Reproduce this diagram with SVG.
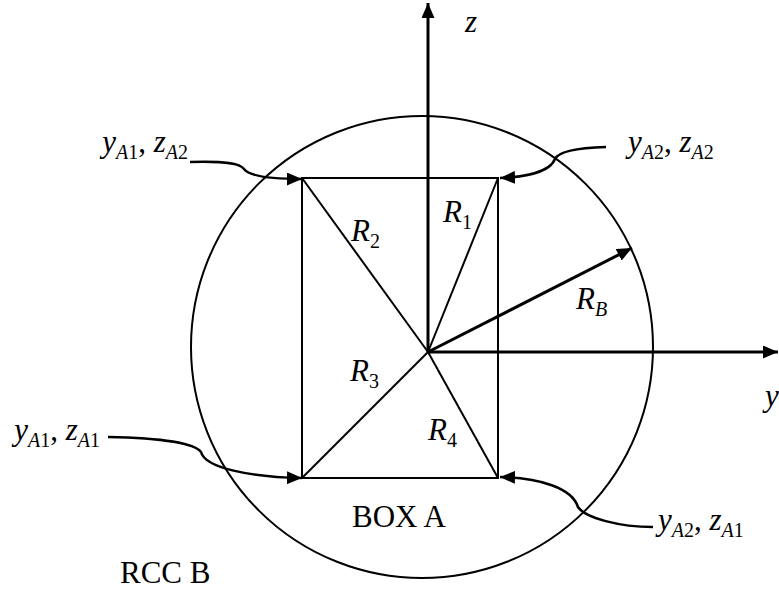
<svg xmlns="http://www.w3.org/2000/svg" width="779" height="593" viewBox="0 0 779 593">
<defs>
<marker id="ah" markerWidth="15" markerHeight="13" refX="15" refY="6.5" orient="auto" markerUnits="userSpaceOnUse">
<path d="M0,0 L15,6.5 L0,13 Z" fill="#000"/>
</marker>
<style>
.ln{fill:none;stroke:#000;stroke-width:2}
.ax{fill:none;stroke:#000;stroke-width:3}
.cv{fill:none;stroke:#000;stroke-width:2.5}
text{font-family:"Liberation Serif","Times New Roman",serif;fill:#000}
.it{font-style:italic}
.m{font-size:31px}
.s{font-size:20px}
.lbl{font-size:31px}
</style>
</defs>
<g id="circle-rcc-b"><ellipse cx="422" cy="347" rx="231" ry="231" class="ln"/></g>
<g id="box-a">
<rect x="302" y="178" width="196" height="300" class="ln"/>
</g>
<g id="connectors">
<line x1="428" y1="352" x2="428" y2="3" class="ax" marker-end="url(#ah)"/>
<line x1="428" y1="352" x2="778" y2="352" class="ax" marker-end="url(#ah)"/>
<line x1="428" y1="352" x2="302" y2="178" class="ln"/>
<line x1="428" y1="352" x2="498" y2="178" class="ln"/>
<line x1="428" y1="352" x2="302" y2="478" class="ln"/>
<line x1="428" y1="352" x2="498" y2="478" class="ln"/>
<line x1="428" y1="352" x2="632" y2="248" class="ax" marker-end="url(#ah)"/>
<path d="M190,162 C225,161 240,163 244,169 C250,177 275,179 302,179" class="cv" marker-end="url(#ah)"/>
<path d="M606,147 C575,148 558,152 555,159 C550,172 525,177 500,178" class="cv" marker-end="url(#ah)"/>
<path d="M108,437 C165,438 195,444 201,452 C205,468 250,477 302,478" class="cv" marker-end="url(#ah)"/>
<path d="M653,527 C620,527 585,518 578,507 C572,488 540,478 500,477" class="cv" marker-end="url(#ah)"/>
</g>
<g id="labels">
<text x="465" y="32" class="m it">z</text>
<text x="765" y="406" class="m it">y</text>
<text x="443" y="222" class="m"><tspan class="it">R</tspan><tspan class="s" dy="7">1</tspan></text>
<text x="351" y="241" class="m"><tspan class="it">R</tspan><tspan class="s" dy="7">2</tspan></text>
<text x="350" y="381" class="m"><tspan class="it">R</tspan><tspan class="s" dy="7">3</tspan></text>
<text x="428" y="440" class="m"><tspan class="it">R</tspan><tspan class="s" dy="7">4</tspan></text>
<text x="576" y="309" class="m"><tspan class="it">R</tspan><tspan class="s it" dy="7">B</tspan></text>
<text x="188" y="152" class="m" text-anchor="end"><tspan class="it">y</tspan><tspan class="s it" dy="7">A</tspan><tspan class="s">1</tspan><tspan dy="-7">, </tspan><tspan class="it">z</tspan><tspan class="s it" dy="7">A</tspan><tspan class="s">2</tspan></text>
<text x="628" y="152" class="m"><tspan class="it">y</tspan><tspan class="s it" dy="7">A</tspan><tspan class="s">2</tspan><tspan dy="-7">, </tspan><tspan class="it">z</tspan><tspan class="s it" dy="7">A</tspan><tspan class="s">2</tspan></text>
<text x="100" y="440" class="m" text-anchor="end"><tspan class="it">y</tspan><tspan class="s it" dy="7">A</tspan><tspan class="s">1</tspan><tspan dy="-7">, </tspan><tspan class="it">z</tspan><tspan class="s it" dy="7">A</tspan><tspan class="s">1</tspan></text>
<text x="658" y="530" class="m"><tspan class="it">y</tspan><tspan class="s it" dy="7">A</tspan><tspan class="s">2</tspan><tspan dy="-7">, </tspan><tspan class="it">z</tspan><tspan class="s it" dy="7">A</tspan><tspan class="s">1</tspan></text>
<text x="352" y="527" class="lbl">BOX A</text>
<text x="120" y="583" class="lbl">RCC B</text>
</g>
</svg>
